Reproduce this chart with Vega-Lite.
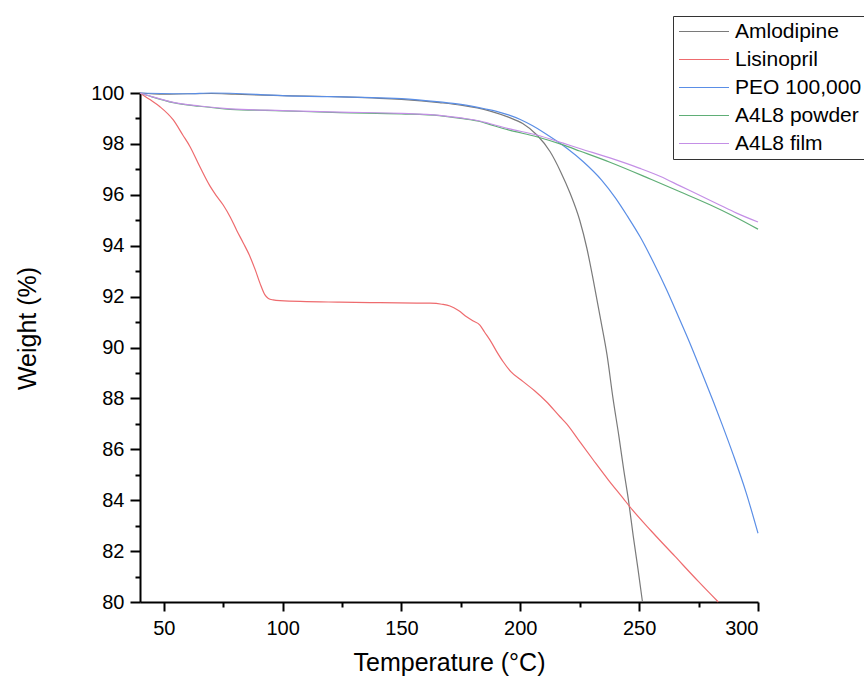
{
  "$schema": "https://vega.github.io/schema/vega-lite/v6.json",
  "width": 618,
  "height": 509,
  "autosize": "none",
  "padding": {"left": 140, "top": 93, "right": 106, "bottom": 78},
  "background": "white",
  "config": {
    "view": {"stroke": null},
    "font": "Liberation Sans"
  },
  "data": {
    "values": [
      {"s": "Amlodipine", "T": 40, "W": 100.0},
      {"s": "Amlodipine", "T": 50, "W": 99.95},
      {"s": "Amlodipine", "T": 60, "W": 99.97},
      {"s": "Amlodipine", "T": 70, "W": 99.98},
      {"s": "Amlodipine", "T": 80, "W": 99.95},
      {"s": "Amlodipine", "T": 100, "W": 99.9},
      {"s": "Amlodipine", "T": 125, "W": 99.85},
      {"s": "Amlodipine", "T": 150, "W": 99.75},
      {"s": "Amlodipine", "T": 166, "W": 99.62},
      {"s": "Amlodipine", "T": 175, "W": 99.52},
      {"s": "Amlodipine", "T": 187, "W": 99.3},
      {"s": "Amlodipine", "T": 195, "W": 99.05},
      {"s": "Amlodipine", "T": 201, "W": 98.8},
      {"s": "Amlodipine", "T": 207, "W": 98.35},
      {"s": "Amlodipine", "T": 212.5, "W": 97.7},
      {"s": "Amlodipine", "T": 217, "W": 96.9},
      {"s": "Amlodipine", "T": 221, "W": 96.05},
      {"s": "Amlodipine", "T": 225, "W": 95.0},
      {"s": "Amlodipine", "T": 228, "W": 93.9},
      {"s": "Amlodipine", "T": 230.7, "W": 92.65},
      {"s": "Amlodipine", "T": 234, "W": 91.0},
      {"s": "Amlodipine", "T": 236.5, "W": 89.7},
      {"s": "Amlodipine", "T": 239, "W": 88.0},
      {"s": "Amlodipine", "T": 241.5, "W": 86.5},
      {"s": "Amlodipine", "T": 243.5, "W": 85.2},
      {"s": "Amlodipine", "T": 245.5, "W": 84.0},
      {"s": "Amlodipine", "T": 247.5, "W": 82.6},
      {"s": "Amlodipine", "T": 249.5, "W": 81.3},
      {"s": "Amlodipine", "T": 251.4, "W": 80.0},

      {"s": "Lisinopril", "T": 40, "W": 100.0},
      {"s": "Lisinopril", "T": 44, "W": 99.75},
      {"s": "Lisinopril", "T": 48.4, "W": 99.46},
      {"s": "Lisinopril", "T": 54, "W": 98.94},
      {"s": "Lisinopril", "T": 58, "W": 98.35},
      {"s": "Lisinopril", "T": 61, "W": 97.9},
      {"s": "Lisinopril", "T": 65.2, "W": 97.1},
      {"s": "Lisinopril", "T": 69.4, "W": 96.35},
      {"s": "Lisinopril", "T": 72, "W": 95.98},
      {"s": "Lisinopril", "T": 75, "W": 95.6},
      {"s": "Lisinopril", "T": 78, "W": 95.12},
      {"s": "Lisinopril", "T": 80.7, "W": 94.6},
      {"s": "Lisinopril", "T": 83.5, "W": 94.1},
      {"s": "Lisinopril", "T": 86.3, "W": 93.57},
      {"s": "Lisinopril", "T": 88.5, "W": 93.05},
      {"s": "Lisinopril", "T": 90.5, "W": 92.52},
      {"s": "Lisinopril", "T": 92.5, "W": 92.08},
      {"s": "Lisinopril", "T": 94, "W": 91.93},
      {"s": "Lisinopril", "T": 96, "W": 91.87},
      {"s": "Lisinopril", "T": 98.9, "W": 91.84},
      {"s": "Lisinopril", "T": 124, "W": 91.78},
      {"s": "Lisinopril", "T": 141, "W": 91.76},
      {"s": "Lisinopril", "T": 162, "W": 91.74},
      {"s": "Lisinopril", "T": 167, "W": 91.7},
      {"s": "Lisinopril", "T": 170.4, "W": 91.63},
      {"s": "Lisinopril", "T": 174, "W": 91.45},
      {"s": "Lisinopril", "T": 177.4, "W": 91.21},
      {"s": "Lisinopril", "T": 180, "W": 91.05},
      {"s": "Lisinopril", "T": 183, "W": 90.88},
      {"s": "Lisinopril", "T": 185, "W": 90.6},
      {"s": "Lisinopril", "T": 187.2, "W": 90.3},
      {"s": "Lisinopril", "T": 190, "W": 89.85},
      {"s": "Lisinopril", "T": 192.8, "W": 89.44},
      {"s": "Lisinopril", "T": 196, "W": 89.05},
      {"s": "Lisinopril", "T": 201.2, "W": 88.66},
      {"s": "Lisinopril", "T": 206, "W": 88.3},
      {"s": "Lisinopril", "T": 211, "W": 87.87},
      {"s": "Lisinopril", "T": 216.7, "W": 87.28},
      {"s": "Lisinopril", "T": 219.5, "W": 87.0},
      {"s": "Lisinopril", "T": 225, "W": 86.3},
      {"s": "Lisinopril", "T": 230.7, "W": 85.58},
      {"s": "Lisinopril", "T": 237, "W": 84.8},
      {"s": "Lisinopril", "T": 243.3, "W": 84.07},
      {"s": "Lisinopril", "T": 246.1, "W": 83.74},
      {"s": "Lisinopril", "T": 255, "W": 82.8},
      {"s": "Lisinopril", "T": 265, "W": 81.8},
      {"s": "Lisinopril", "T": 275, "W": 80.8},
      {"s": "Lisinopril", "T": 283.3, "W": 80.0},

      {"s": "PEO 100,000", "T": 40, "W": 100.0},
      {"s": "PEO 100,000", "T": 60, "W": 99.97},
      {"s": "PEO 100,000", "T": 70, "W": 100.0},
      {"s": "PEO 100,000", "T": 100, "W": 99.9},
      {"s": "PEO 100,000", "T": 150, "W": 99.78},
      {"s": "PEO 100,000", "T": 166, "W": 99.65},
      {"s": "PEO 100,000", "T": 175, "W": 99.55},
      {"s": "PEO 100,000", "T": 185, "W": 99.38},
      {"s": "PEO 100,000", "T": 190, "W": 99.28},
      {"s": "PEO 100,000", "T": 195, "W": 99.14},
      {"s": "PEO 100,000", "T": 200, "W": 98.96},
      {"s": "PEO 100,000", "T": 205, "W": 98.72},
      {"s": "PEO 100,000", "T": 210, "W": 98.44},
      {"s": "PEO 100,000", "T": 215, "W": 98.13},
      {"s": "PEO 100,000", "T": 220, "W": 97.8},
      {"s": "PEO 100,000", "T": 226.5, "W": 97.3},
      {"s": "PEO 100,000", "T": 234.2, "W": 96.58},
      {"s": "PEO 100,000", "T": 240, "W": 95.88},
      {"s": "PEO 100,000", "T": 245, "W": 95.17},
      {"s": "PEO 100,000", "T": 250.4, "W": 94.35},
      {"s": "PEO 100,000", "T": 256, "W": 93.35},
      {"s": "PEO 100,000", "T": 261.6, "W": 92.26},
      {"s": "PEO 100,000", "T": 266.5, "W": 91.22},
      {"s": "PEO 100,000", "T": 271.4, "W": 90.16},
      {"s": "PEO 100,000", "T": 276, "W": 89.1},
      {"s": "PEO 100,000", "T": 281.2, "W": 87.88},
      {"s": "PEO 100,000", "T": 285, "W": 86.95},
      {"s": "PEO 100,000", "T": 289.6, "W": 85.78},
      {"s": "PEO 100,000", "T": 295, "W": 84.3},
      {"s": "PEO 100,000", "T": 300, "W": 82.7},

      {"s": "A4L8 powder", "T": 40, "W": 100.0},
      {"s": "A4L8 powder", "T": 45, "W": 99.85},
      {"s": "A4L8 powder", "T": 54, "W": 99.62},
      {"s": "A4L8 powder", "T": 65, "W": 99.48},
      {"s": "A4L8 powder", "T": 78, "W": 99.36},
      {"s": "A4L8 powder", "T": 100, "W": 99.3},
      {"s": "A4L8 powder", "T": 124, "W": 99.23},
      {"s": "A4L8 powder", "T": 150, "W": 99.18},
      {"s": "A4L8 powder", "T": 166, "W": 99.11},
      {"s": "A4L8 powder", "T": 175, "W": 99.0},
      {"s": "A4L8 powder", "T": 183, "W": 98.88},
      {"s": "A4L8 powder", "T": 187, "W": 98.77},
      {"s": "A4L8 powder", "T": 195, "W": 98.55},
      {"s": "A4L8 powder", "T": 206.9, "W": 98.28},
      {"s": "A4L8 powder", "T": 218, "W": 97.96},
      {"s": "A4L8 powder", "T": 225, "W": 97.72},
      {"s": "A4L8 powder", "T": 237.7, "W": 97.28},
      {"s": "A4L8 powder", "T": 255.2, "W": 96.6},
      {"s": "A4L8 powder", "T": 267.2, "W": 96.12},
      {"s": "A4L8 powder", "T": 280, "W": 95.6},
      {"s": "A4L8 powder", "T": 290, "W": 95.15},
      {"s": "A4L8 powder", "T": 300, "W": 94.65},

      {"s": "A4L8 film", "T": 40, "W": 100.0},
      {"s": "A4L8 film", "T": 45, "W": 99.86},
      {"s": "A4L8 film", "T": 54, "W": 99.63},
      {"s": "A4L8 film", "T": 65, "W": 99.49},
      {"s": "A4L8 film", "T": 78, "W": 99.38},
      {"s": "A4L8 film", "T": 100, "W": 99.31},
      {"s": "A4L8 film", "T": 124, "W": 99.25},
      {"s": "A4L8 film", "T": 150, "W": 99.2},
      {"s": "A4L8 film", "T": 166, "W": 99.12},
      {"s": "A4L8 film", "T": 175, "W": 99.02},
      {"s": "A4L8 film", "T": 183, "W": 98.9},
      {"s": "A4L8 film", "T": 187, "W": 98.8},
      {"s": "A4L8 film", "T": 195, "W": 98.6},
      {"s": "A4L8 film", "T": 206.9, "W": 98.35},
      {"s": "A4L8 film", "T": 218, "W": 98.03},
      {"s": "A4L8 film", "T": 225, "W": 97.82},
      {"s": "A4L8 film", "T": 237.7, "W": 97.45},
      {"s": "A4L8 film", "T": 250, "W": 97.05},
      {"s": "A4L8 film", "T": 259, "W": 96.72},
      {"s": "A4L8 film", "T": 267.2, "W": 96.35},
      {"s": "A4L8 film", "T": 275, "W": 96.0},
      {"s": "A4L8 film", "T": 283, "W": 95.64},
      {"s": "A4L8 film", "T": 291, "W": 95.28},
      {"s": "A4L8 film", "T": 300, "W": 94.93}
    ]
  },
  "layer": [
    {
      "mark": {"type": "line", "strokeWidth": 1.2, "interpolate": "monotone"},
      "encoding": {
        "x": {
          "field": "T", "type": "quantitative",
          "scale": {"domain": [40, 300], "nice": false, "zero": false},
          "axis": {
            "title": "Temperature (°C)",
            "values": [50, 100, 150, 200, 250, 300],
            "grid": false,
            "domainColor": "black", "domainWidth": 2,
            "tickColor": "black", "tickWidth": 2, "tickSize": 9,
            "labelFontSize": 20, "labelColor": "black", "labelPadding": 7,
            "labelFont": "Liberation Sans",
            "titleFont": "Liberation Sans", "titleFontSize": 25,
            "titleFontWeight": "normal", "titleColor": "black", "titlePadding": 12
          }
        },
        "y": {
          "field": "W", "type": "quantitative",
          "scale": {"domain": [80, 100], "nice": false, "zero": false},
          "axis": {
            "title": "Weight (%)",
            "values": [80, 82, 84, 86, 88, 90, 92, 94, 96, 98, 100],
            "grid": false,
            "domainColor": "black", "domainWidth": 2,
            "tickColor": "black", "tickWidth": 2, "tickSize": 10,
            "labelFontSize": 20, "labelColor": "black", "labelPadding": 6,
            "labelFont": "Liberation Sans",
            "titleFont": "Liberation Sans", "titleFontSize": 25,
            "titleFontWeight": "normal", "titleColor": "black", "titlePadding": 50,
            "titleY": 235
          }
        },
        "color": {
          "field": "s", "type": "nominal",
          "scale": {
            "domain": ["Amlodipine", "Lisinopril", "PEO 100,000", "A4L8 powder", "A4L8 film"],
            "range": ["#7a7a7a", "#ee6b6e", "#5a8ee6", "#5fae76", "#c48fe6"]
          },
          "legend": {
            "title": null,
            "orient": "none",
            "legendX": 533,
            "legendY": -77,
            "strokeColor": "#333333",
            "padding": 5,
            "symbolType": "stroke",
            "symbolSize": 2500,
            "symbolStrokeWidth": 1.2,
            "clipHeight": 21,
            "labelFontSize": 21,
            "labelFont": "Liberation Sans",
            "labelColor": "black",
            "labelOffset": 5,
            "rowPadding": 6,
            "labelLimit": 300
          }
        }
      }
    },
    {
      "mark": {"type": "line", "strokeOpacity": 0},
      "encoding": {
        "x": {
          "field": "T", "type": "quantitative",
          "axis": {
            "orient": "bottom",
            "title": null,
            "values": [75, 125, 175, 225, 275],
            "labels": false, "domain": false, "grid": false,
            "tickColor": "black", "tickWidth": 2, "tickSize": 5
          }
        },
        "y": {
          "field": "W", "type": "quantitative",
          "axis": {
            "orient": "left",
            "title": null,
            "values": [81, 83, 85, 87, 89, 91, 93, 95, 97, 99],
            "labels": false, "domain": false, "grid": false,
            "tickColor": "black", "tickWidth": 2, "tickSize": 5
          }
        },
        "detail": {"field": "s", "type": "nominal"}
      }
    }
  ],
  "resolve": {"axis": {"x": "independent", "y": "independent"}}
}
